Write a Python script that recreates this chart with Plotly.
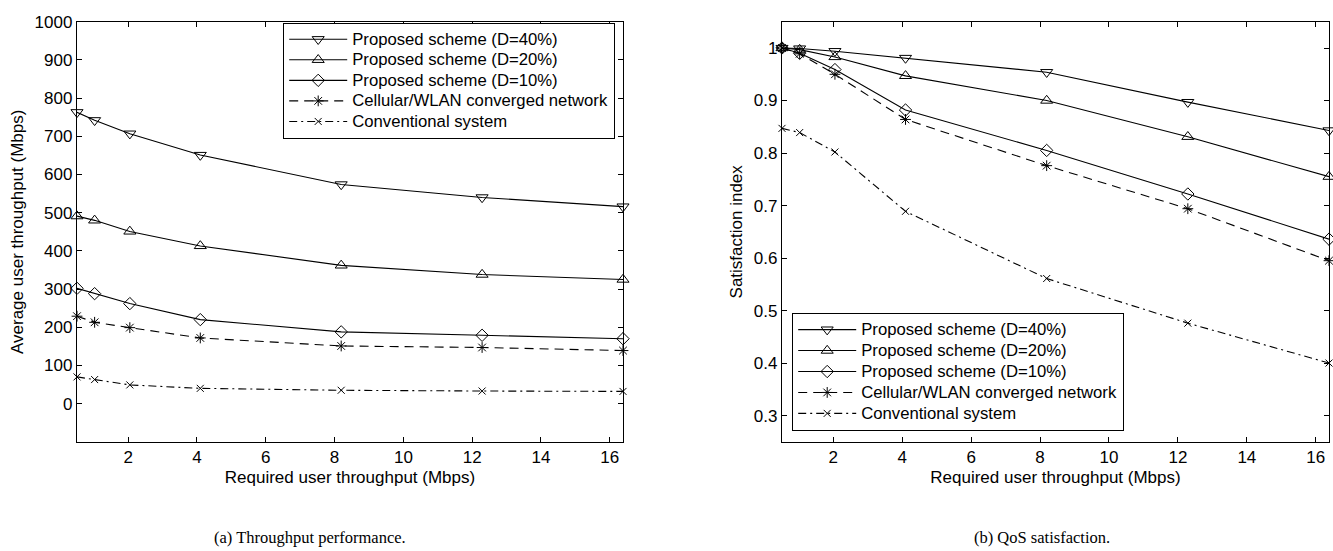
import plotly.graph_objects as go

# ---------------- data ----------------
x_req = [0.512, 1.024, 2.048, 4.096, 8.192, 12.288, 16.384]

series_names = [
    "Proposed scheme (D=40%)",
    "Proposed scheme (D=20%)",
    "Proposed scheme (D=10%)",
    "Cellular/WLAN converged network",
    "Conventional system",
]

thr_d40 = [763, 742, 707, 651, 574, 540, 516]
thr_d20 = [491, 480, 451, 413, 362, 338, 325]
thr_d10 = [302, 288, 262, 220, 188, 179, 170]
thr_cell = [229, 213, 199, 172, 151, 147, 139]
thr_conv = [70, 63, 49, 40, 35, 33, 32]

sat_d40 = [1.0, 0.999, 0.994, 0.981, 0.954, 0.897, 0.843]
sat_d20 = [1.0, 0.997, 0.983, 0.947, 0.900, 0.831, 0.755]
sat_d10 = [1.0, 0.990, 0.959, 0.882, 0.805, 0.722, 0.636]
sat_cell = [1.0, 0.989, 0.950, 0.864, 0.776, 0.694, 0.595]
sat_conv = [0.847, 0.839, 0.802, 0.689, 0.561, 0.476, 0.400]

x_ticks = [2, 4, 6, 8, 10, 12, 14, 16]
thr_ticks = [0, 100, 200, 300, 400, 500, 600, 700, 800, 900, 1000]
sat_ticks = [0.3, 0.4, 0.5, 0.6, 0.7, 0.8, 0.9, 1.0]
sat_ticktext = ["0.3", "0.4", "0.5", "0.6", "0.7", "0.8", "0.9", "1"]

# ---------------- styles ----------------
symbols = ["triangle-down-open", "triangle-up-open", "diamond-open", "asterisk-open", "x-thin-open"]
msizes = [10.5, 10.5, 9.5, 9, 7]
dashes = ["solid", "solid", "solid", "9px,6px", "8px,4px,2px,4px"]

W, H = 1333, 551
FONT = "Liberation Sans, Arial, Helvetica, sans-serif"
TXT = 17

fig = go.Figure()

thr_all = [thr_d40, thr_d20, thr_d10, thr_cell, thr_conv]
sat_all = [sat_d40, sat_d20, sat_d10, sat_cell, sat_conv]


def legend_name(s):
    return '<span style="font-size:16.7px">' + s + "</span>"


for i, name in enumerate(series_names):
    common = dict(
        mode="lines+markers",
        line=dict(color="black", width=1.1, dash=dashes[i]),
        marker=dict(symbol=symbols[i], size=msizes[i], color="black",
                    line=dict(color="black", width=1)),
        cliponaxis=False,
    )
    fig.add_trace(go.Scatter(x=x_req, y=thr_all[i], name=legend_name(name),
                             xaxis="x", yaxis="y", legend="legend", **common))
    fig.add_trace(go.Scatter(x=x_req, y=sat_all[i], name=legend_name(name),
                             xaxis="x2", yaxis="y2", legend="legend2", **common))

axis_common = dict(
    showline=True, linecolor="black", linewidth=1.3, mirror="allticks",
    ticks="inside", ticklen=5, tickwidth=1, tickcolor="black",
    showgrid=False, zeroline=False,
    tickfont=dict(family=FONT, size=TXT, color="black"),
    title_font=dict(family=FONT, size=TXT, color="black"),
)

y_dom = [1 - 440 / H, 1 - 13 / H]

fig.update_layout(
    width=W, height=H,
    margin=dict(l=0, r=0, t=0, b=0),
    paper_bgcolor="white", plot_bgcolor="white",
    font=dict(family=FONT, size=TXT, color="black"),
    xaxis=dict(domain=[77 / W, 623 / W], range=[0.512, 16.384], tickvals=x_ticks,
               anchor="y", title=dict(text="Required user throughput (Mbps)", standoff=4),
               **axis_common),
    yaxis=dict(domain=y_dom, range=[-100, 1000], tickvals=thr_ticks, anchor="x",
               title=dict(text="Average user throughput (Mbps)", standoff=6),
               **axis_common),
    xaxis2=dict(domain=[782 / W, 1329 / W], range=[0.512, 16.384], tickvals=x_ticks,
                anchor="y2", title=dict(text="Required user throughput (Mbps)", standoff=4),
                **axis_common),
    yaxis2=dict(domain=y_dom, range=[0.25, 1.05], tickvals=sat_ticks, ticktext=sat_ticktext,
                anchor="x2", title=dict(text="Satisfaction index", standoff=6),
                **axis_common),
    legend=dict(x=283 / W, y=1 - 14 / H, xanchor="left", yanchor="top",
                bgcolor="white", bordercolor="black", borderwidth=1.2,
                font=dict(family=FONT, size=13.5, color="black"),
                itemwidth=58, tracegroupgap=0),
    legend2=dict(x=792 / W, y=1 - 309 / H, xanchor="left", yanchor="top",
                 bgcolor="white", bordercolor="black", borderwidth=1.2,
                 font=dict(family=FONT, size=13.8, color="black"),
                 itemwidth=58, tracegroupgap=0),
    showlegend=True,
)

fig.add_annotation(text="(a) Throughput performance.", x=310 / W, y=1 - 537 / H,
                   xref="paper", yref="paper", showarrow=False, xanchor="center", yanchor="middle",
                   font=dict(family="Liberation Serif, Times New Roman, serif", size=16.5, color="black"))
fig.add_annotation(text="(b) QoS satisfaction.", x=1042 / W, y=1 - 537 / H,
                   xref="paper", yref="paper", showarrow=False, xanchor="center", yanchor="middle",
                   font=dict(family="Liberation Serif, Times New Roman, serif", size=16.5, color="black"))

fig.write_html("out.html")
